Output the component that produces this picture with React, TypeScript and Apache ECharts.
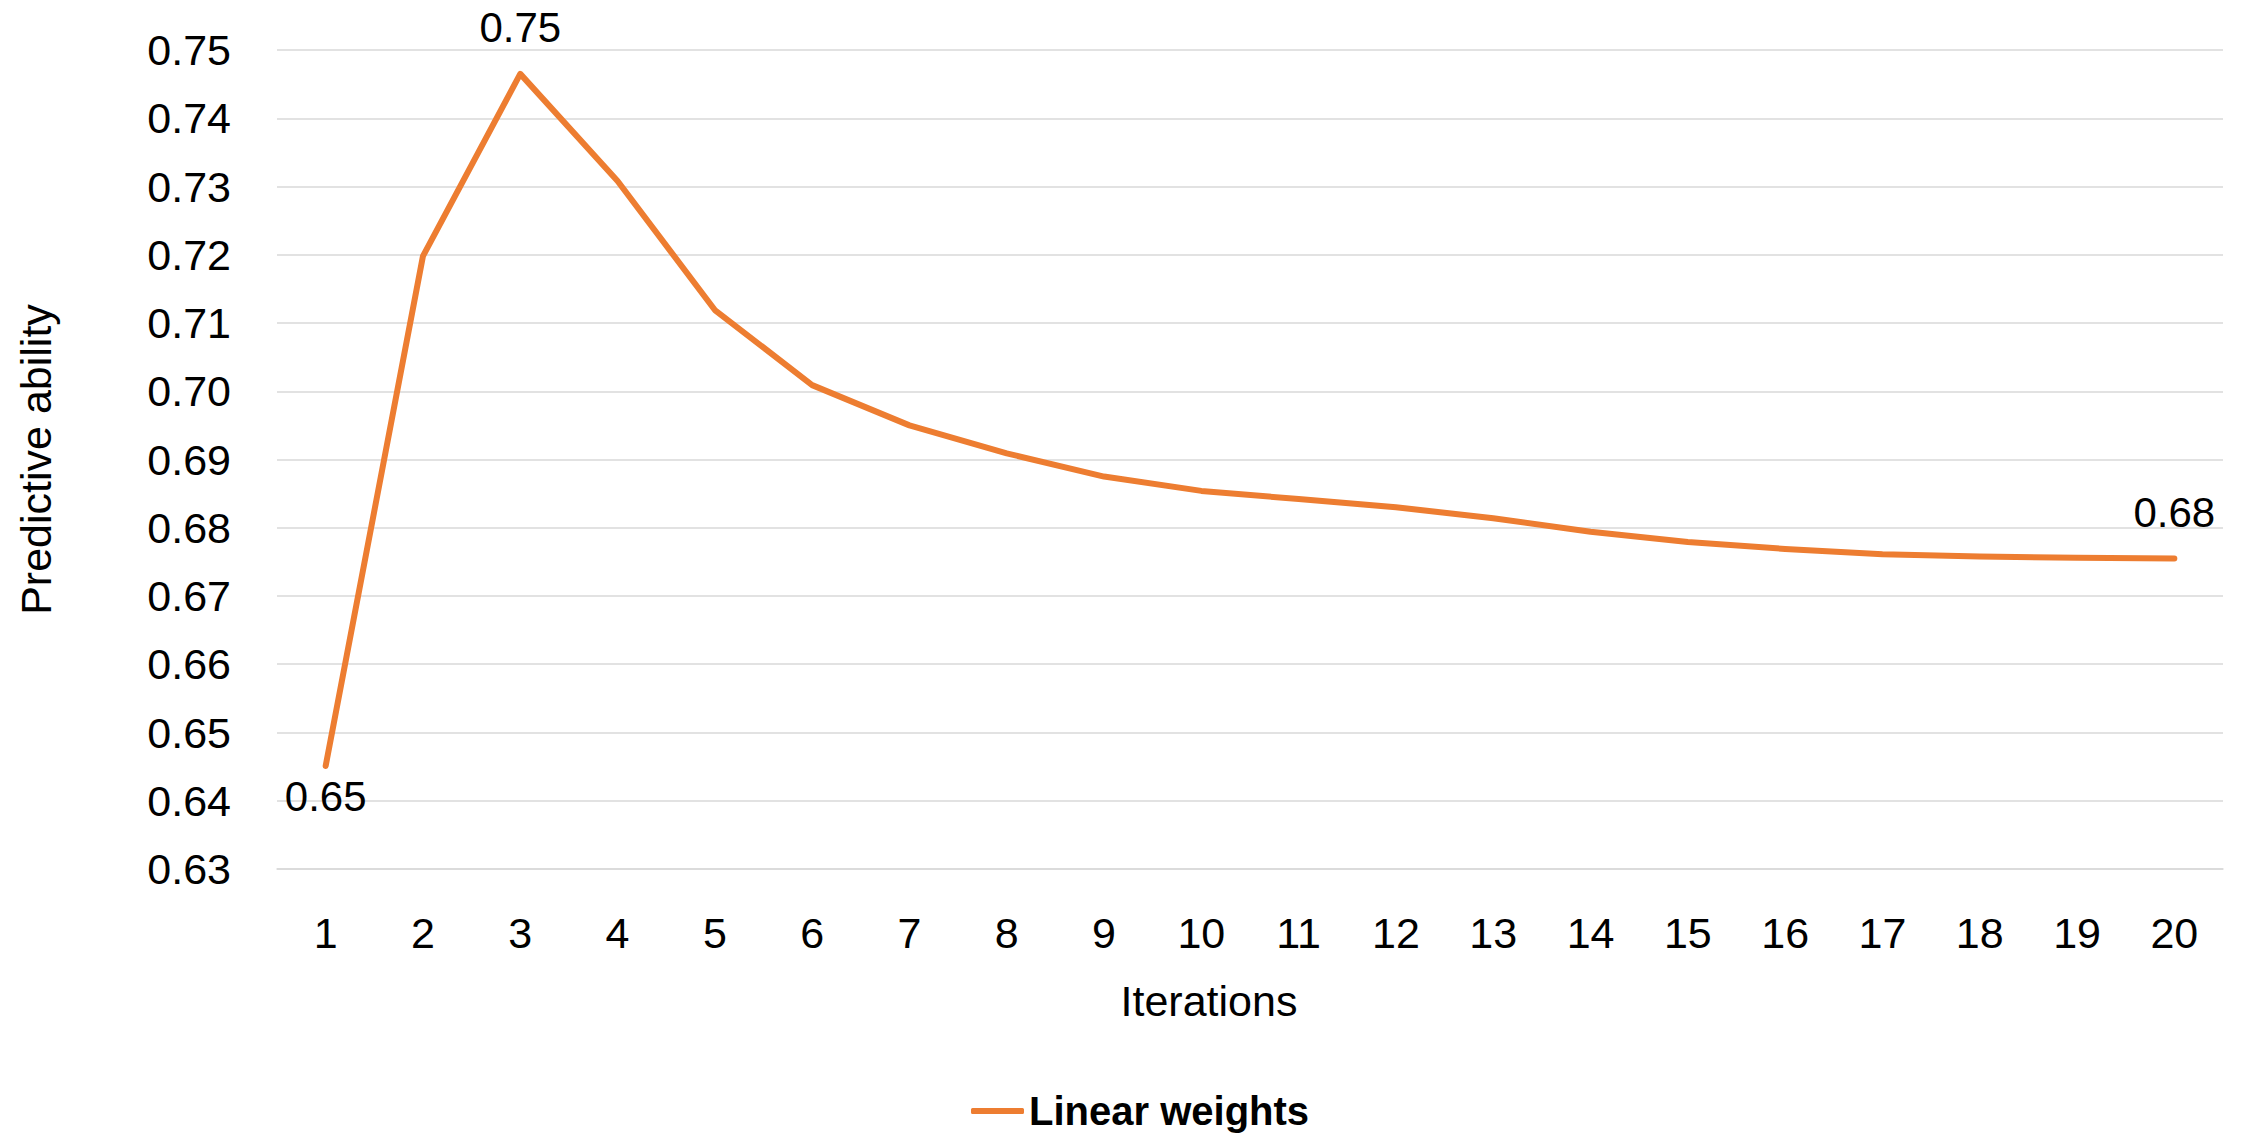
import React, { useEffect, useRef } from "react";
import * as echarts from "echarts";

// Iteration numbers along the x axis
const iterations: string[] = [
  "1", "2", "3", "4", "5", "6", "7", "8", "9", "10",
  "11", "12", "13", "14", "15", "16", "17", "18", "19", "20",
];

// Predictive ability for each iteration
const linearWeights: number[] = [
  0.6451, 0.7198, 0.7465, 0.7308, 0.7119, 0.7009, 0.695, 0.6909, 0.6875, 0.6854,
  0.6842, 0.683, 0.6814, 0.6794, 0.6779, 0.6769, 0.6761, 0.6758, 0.6756, 0.6755,
];

// Points whose value is written on the chart, and where the label sits
const labelledPoints: { index: number; position: "top" | "bottom" }[] = [
  { index: 0, position: "bottom" },
  { index: 2, position: "top" },
  { index: 19, position: "top" },
];

const FONT = "'Liberation Sans', Arial, sans-serif";
const ORANGE = "#ED7D31";
const GRID = "#D9D9D9";

export default function App() {
  const ref = useRef<HTMLDivElement>(null);

  useEffect(() => {
    document.body.style.margin = "0";
    if (!ref.current) return;
    const chart = echarts.init(ref.current, undefined, { renderer: "svg" });

    const seriesData = linearWeights.map((v, i) => {
      const lp = labelledPoints.find((p) => p.index === i);
      if (!lp) return { value: v };
      return {
        value: v,
        label: {
          show: true,
          position: lp.position,
          distance: lp.position === "top" ? 24 : 9,
        },
      };
    });

    chart.setOption({
      animation: false,
      backgroundColor: "#fff",
      grid: { left: 277, right: 26, top: 50, bottom: 266, containLabel: false },
      xAxis: {
        type: "category",
        data: iterations,
        boundaryGap: true,
        name: "Iterations",
        nameLocation: "middle",
        nameGap: 110,
        nameTextStyle: {
          fontFamily: FONT,
          fontSize: 43,
          color: "#000",
          padding: [0, 82, 0, 0],
        },
        axisLine: { show: true, lineStyle: { color: GRID, width: 1.5 } },
        axisTick: { show: false },
        axisLabel: { fontFamily: FONT, fontSize: 43, color: "#000", margin: 42 },
        splitLine: { show: false },
      },
      yAxis: {
        type: "value",
        min: 0.63,
        max: 0.75,
        interval: 0.01,
        name: "Predictive ability",
        nameLocation: "middle",
        nameGap: 220,
        nameTextStyle: { fontFamily: FONT, fontSize: 43, color: "#000" },
        axisLine: { show: false },
        axisTick: { show: false },
        axisLabel: {
          fontFamily: FONT,
          fontSize: 43,
          color: "#000",
          margin: 46,
          formatter: (v: number) => v.toFixed(2),
        },
        splitLine: { show: true, lineStyle: { color: GRID, width: 1.5 } },
      },
      legend: {
        show: true,
        top: 1086,
        left: 966,
        icon: "roundRect",
        itemWidth: 53,
        itemHeight: 6,
        textStyle: { fontFamily: FONT, fontSize: 40, fontWeight: "bold", color: "#000" },
        data: ["Linear weights"],
      },
      series: [
        {
          name: "Linear weights",
          type: "line",
          data: seriesData,
          symbol: "circle",
          symbolSize: 2,
          showSymbol: true,
          showAllSymbol: true,
          color: ORANGE,
          label: {
            show: false,
            fontFamily: FONT,
            fontSize: 42,
            color: "#000",
            formatter: (p: any) => Number(p.value).toFixed(2),
          },
          lineStyle: { color: ORANGE, width: 6, cap: "round", join: "round" },
          itemStyle: { color: ORANGE },
        },
      ],
    });

    return () => chart.dispose();
  }, []);

  return <div ref={ref} style={{ width: 2249, height: 1135 }} />;
}
